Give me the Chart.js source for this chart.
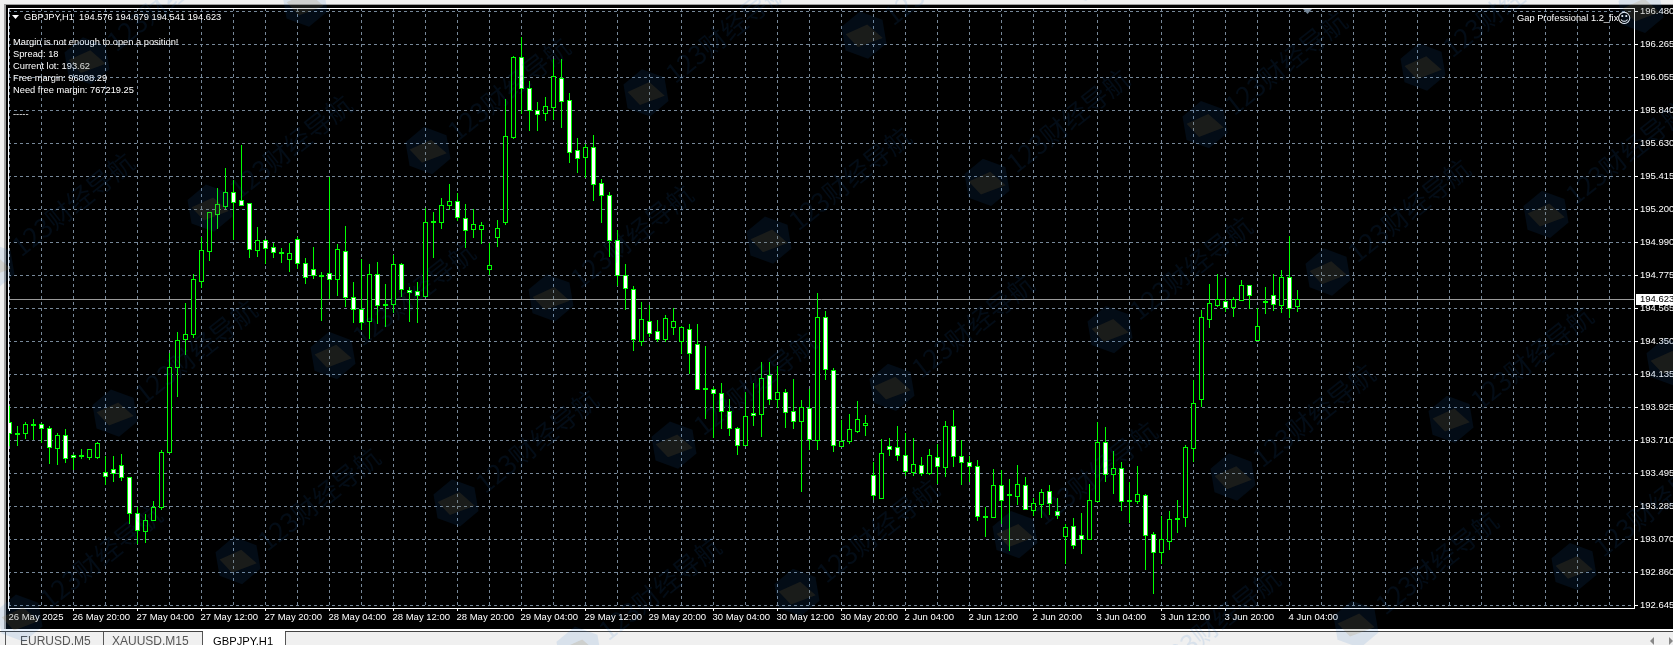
<!DOCTYPE html>
<html>
<head>
<meta charset="utf-8">
<title>GBPJPY,H1</title>
<script src="https://cdn.jsdelivr.net/npm/chart.js@4/dist/chart.umd.min.js"></script>
<style>
  html, body { margin: 0; padding: 0; background: #f0f0f0; }
  body { position: relative; width: 1673px; height: 645px; overflow: hidden; font-family: "Liberation Sans", sans-serif; }
  .edge { position: absolute; background: #a0a0a0; }
  #plotBg { position: absolute; left: 6px; top: 5px; width: 1667px; height: 624px; background: #000; }
  #chart, #wm { position: absolute; left: 0; top: 0; }
  #wm { pointer-events: none; z-index: 5; }
  .lbl { position: absolute; color: #fff; font-size: 9.3px; line-height: 12px; white-space: pre; }
  #tabLine { position: absolute; left: 0; top: 629px; width: 1673px; height: 2px; background: #fff; }
  #tabDark { position: absolute; left: 0; top: 631px; width: 1673px; height: 1px; background: #444; }
  .tab { position: absolute; top: 635px; font-size: 12px; line-height: 12px; color: #555; white-space: pre; }
  .sep { position: absolute; top: 632px; width: 1px; height: 13px; background: #555; }
  #active { position: absolute; left: 203px; top: 631px; width: 82px; height: 14px; background: #fff; }
  .arrow { position: absolute; top: 637px; width: 0; height: 0; border-top: 4px solid transparent; border-bottom: 4px solid transparent; }
</style>
</head>
<body>
<div class="edge" style="left:4px;top:4px;width:1669px;height:1px"></div>
<div class="edge" style="left:4px;top:4px;width:2px;height:627px"></div>
<div id="plotBg"></div>
<canvas id="chart" width="1673" height="630"></canvas>

<div class="lbl" style="left:24px;top:11px">GBPJPY,H1  194.576 194.679 194.541 194.623</div>
<div class="lbl" style="left:13px;top:36px">Margin is not enough to open a position!</div>
<div class="lbl" style="left:13px;top:48px">Spread: 18</div>
<div class="lbl" style="left:13px;top:60px">Current lot: 193.62</div>
<div class="lbl" style="left:13px;top:72px">Free margin: 96808.29</div>
<div class="lbl" style="left:13px;top:84px">Need free margin: 767219.25</div>
<div class="lbl" style="left:13px;top:108px">-----</div>
<div class="lbl" style="left:1517px;top:12px">Gap Professional 1.2_fix</div>
<div class="lbl" style="left:1617px;top:10px;font:14px/16px 'DejaVu Sans'">&#9786;</div>

<div id="tabLine"></div>
<div id="tabDark"></div>
<div id="active"></div>
<div class="sep" style="left:5px"></div>
<div class="sep" style="left:103px"></div>
<div class="sep" style="left:202px"></div>
<div class="sep" style="left:285px"></div>
<div class="tab" style="left:20px">EURUSD,M5</div>
<div class="tab" style="left:112px">XAUUSD,M15</div>
<div class="tab" style="left:213px;color:#000;font-size:11.2px">GBPJPY,H1</div>
<div class="arrow" style="left:1650px;border-right:4px solid #888"></div>
<div class="arrow" style="left:1669px;border-left:4px solid #888"></div>

<canvas id="wm" width="1673" height="645"></canvas>

<script>
// ── 行情資料（讀圖估值） ─────────────────────────────────────
const opens = [
  193.827,193.756,193.756,193.814,193.814,193.788,193.658,193.743,193.614,193.614,193.601,193.601,193.504,193.523,193.549,193.472,
  193.239,193.123,193.194,193.278,193.633,194.181,194.363,194.395,194.737,194.931,195.169,195.221,195.311,195.260,195.241,194.937,
  195.002,194.957,194.924,194.879,195.008,194.853,194.814,194.776,194.789,194.749,194.931,194.634,194.556,194.479,194.782,194.588,
  194.588,194.846,194.679,194.672,194.640,195.125,195.118,195.228,195.254,195.144,195.072,195.072,194.814,195.021,195.118,195.667,
  196.183,195.983,195.841,195.822,195.860,196.048,195.905,195.583,195.537,195.602,195.369,195.292,195.002,194.776,194.685,194.350,
  194.479,194.415,194.363,194.440,194.350,194.427,194.330,194.046,194.039,194.014,193.898,193.788,193.678,193.885,193.878,194.130,
  193.975,194.020,193.898,193.834,193.917,193.710,194.505,194.162,193.671,193.704,193.769,193.808,193.485,193.336,193.671,193.665,
  193.614,193.504,193.549,193.498,193.601,193.536,193.801,193.607,193.568,193.543,193.220,193.213,193.420,193.362,193.349,193.420,
  193.258,193.297,193.381,193.252,193.090,193.155,193.097,193.071,193.317,193.697,193.491,193.530,193.323,193.317,193.356,193.103,
  192.987,193.058,193.207,193.213,193.658,193.975,194.492,194.582,194.608,194.569,194.614,194.711,194.356,194.608,194.646,194.582,
  194.763,194.576
];
const highs = [
  193.930,193.801,193.827,193.846,193.821,193.801,193.756,193.782,193.620,193.652,193.652,193.697,193.607,193.607,193.620,193.472,
  193.278,193.232,193.317,193.646,194.272,194.408,194.595,194.782,195.021,195.182,195.337,195.466,195.389,195.615,195.241,195.085,
  195.008,194.983,194.950,194.983,195.021,194.885,194.957,194.795,195.408,194.976,195.092,194.730,194.879,194.846,194.859,194.717,
  194.905,194.853,194.698,194.730,195.208,195.182,195.273,195.363,195.305,195.234,195.202,195.118,194.983,195.131,195.912,196.190,
  196.312,196.029,195.892,195.925,196.170,196.170,195.951,195.660,195.621,195.680,195.395,195.311,195.066,194.846,194.705,194.601,
  194.582,194.485,194.518,194.563,194.447,194.459,194.459,194.317,194.052,194.079,193.975,193.795,194.020,194.079,194.214,194.214,
  194.188,194.039,194.104,193.969,194.039,194.660,194.544,194.175,193.840,193.878,193.963,193.872,193.568,193.717,193.723,193.801,
  193.756,193.723,193.601,193.652,193.684,193.834,193.904,193.710,193.607,193.581,193.278,193.523,193.517,193.459,193.549,193.472,
  193.336,193.394,193.420,193.336,193.168,193.207,193.239,193.426,193.827,193.795,193.640,193.568,193.439,193.543,193.362,193.116,
  193.220,193.252,193.323,193.678,194.098,194.550,194.717,194.782,194.756,194.634,194.743,194.711,194.563,194.698,194.782,194.808,
  195.027,194.679
];
const lows = [
  193.678,193.678,193.723,193.717,193.697,193.562,193.555,193.568,193.523,193.594,193.588,193.594,193.426,193.446,193.452,193.175,
  193.046,193.052,193.194,193.265,193.633,193.994,194.265,194.376,194.698,194.872,195.079,195.208,195.008,195.228,194.892,194.898,
  194.853,194.892,194.859,194.802,194.821,194.724,194.756,194.485,194.627,194.646,194.575,194.472,194.427,194.369,194.466,194.447,
  194.537,194.640,194.479,194.472,194.640,194.892,195.079,195.202,195.131,194.957,195.021,194.983,194.782,194.963,195.105,195.660,
  195.822,195.712,195.712,195.776,195.783,195.731,195.505,195.440,195.408,195.260,195.118,194.898,194.711,194.556,194.291,194.324,
  194.382,194.350,194.350,194.395,194.272,194.143,194.039,193.852,193.730,193.788,193.743,193.620,193.678,193.808,193.736,193.943,
  193.924,193.795,193.788,193.381,193.652,193.652,194.104,193.640,193.671,193.691,193.762,193.743,193.330,193.336,193.614,193.581,
  193.485,193.485,193.485,193.491,193.433,193.478,193.543,193.426,193.446,193.194,193.090,193.213,193.175,193.000,193.297,193.265,
  193.226,193.213,193.232,193.207,192.917,193.013,192.981,193.071,193.317,193.446,193.369,193.258,193.181,193.304,192.877,192.723,
  192.917,193.006,193.116,193.155,193.575,193.930,194.440,194.575,194.544,194.511,194.614,194.563,194.356,194.531,194.550,194.537,
  194.505,194.541
];
const closes = [
  193.756,193.749,193.814,193.808,193.788,193.665,193.743,193.594,193.601,193.607,193.652,193.691,193.478,193.498,193.472,193.239,
  193.129,193.194,193.278,193.633,194.181,194.356,194.395,194.749,194.937,195.182,195.234,195.311,195.247,195.228,194.943,195.002,
  194.950,194.924,194.918,194.918,194.853,194.763,194.776,194.769,194.749,194.943,194.634,194.556,194.472,194.782,194.582,194.582,
  194.846,194.685,194.666,194.646,195.118,195.118,195.228,195.254,195.150,195.066,195.105,195.098,194.840,195.079,195.673,196.183,
  195.983,195.841,195.815,195.866,196.060,195.899,195.570,195.531,195.602,195.363,195.292,195.002,194.776,194.692,194.363,194.492,
  194.402,194.363,194.498,194.479,194.440,194.272,194.039,194.039,194.014,193.898,193.788,193.678,193.866,193.872,194.111,193.975,
  194.020,193.891,193.834,193.924,193.717,194.505,194.168,193.678,193.704,193.782,193.846,193.821,193.356,193.627,193.652,193.614,
  193.511,193.555,193.498,193.614,193.543,193.801,193.607,193.568,193.543,193.220,193.213,193.420,193.323,193.356,193.426,193.265,
  193.304,193.375,193.304,193.226,193.149,193.033,193.071,193.323,193.697,193.491,193.530,193.317,193.317,193.362,193.097,192.987,
  193.071,193.200,193.200,193.665,193.950,194.505,194.595,194.621,194.569,194.621,194.711,194.646,194.447,194.601,194.588,194.763,
  194.563,194.623
];

const currentPrice = 194.623;

const xTickLabels = [
  '26 May 2025','26 May 20:00','27 May 04:00','27 May 12:00','27 May 20:00','28 May 04:00','28 May 12:00',
  '28 May 20:00','29 May 04:00','29 May 12:00','29 May 20:00','30 May 04:00','30 May 12:00','30 May 20:00',
  '2 Jun 04:00','2 Jun 12:00','2 Jun 20:00','3 Jun 04:00','3 Jun 12:00','3 Jun 20:00','4 Jun 04:00'
];
const yTickValues = [
  196.480,196.267,196.054,195.841,195.628,195.415,195.202,194.989,194.776,194.563,
  194.350,194.137,193.924,193.711,193.498,193.285,193.072,192.859,192.645
];
const yTickLabels = [
  '196.480','196.265','196.055','195.840','195.630','195.415','195.200','194.990','194.775','194.565',
  '194.350','194.135','193.925','193.710','193.495','193.285','193.070','192.860','192.645'
];

// ── 顏色 ───────────────────────────────────────────────────
const GREEN = '#00ff00';
const GRID  = '#778899';
const FONT  = { family: '"Liberation Sans", sans-serif', size: 9.5 };

// ── 外掛：K 棒對齊像素、外框、現價線 ──────────────────────────
const mt4Plugin = {
  id: 'mt4',
  beforeDatasetsDraw(chart) {
    const { ctx, chartArea: a, scales: { y } } = chart;
    // 對齊整數像素，避免 K 棒模糊
    chart.getSortedVisibleDatasetMetas().forEach(meta => {
      meta.data.forEach(el => {
        if (el._snapped) return;
        el.y = Math.round(el.y - 0.5);
        el.base = Math.round(el.base + 0.5);
        el._snapped = true;
      });
    });
    const py = Math.floor(y.getPixelForValue(currentPrice)) + 0.5;
    ctx.save();
    ctx.strokeStyle = '#9a9a9a';
    ctx.beginPath();
    ctx.moveTo(a.left, py);
    ctx.lineTo(a.right, py);
    ctx.stroke();
    ctx.restore();
  },
  afterDraw(chart) {
    const { ctx, chartArea: a, scales: { y } } = chart;
    ctx.save();
    ctx.strokeStyle = '#fff';
    ctx.strokeRect(a.left + 0.5, a.top + 0.5, a.right - a.left - 1, a.bottom - a.top);

    // 現價標籤
    const py = y.getPixelForValue(currentPrice);
    ctx.fillStyle = '#fff';
    ctx.fillRect(a.right + 1, Math.round(py) - 5, 38, 11);
    ctx.fillStyle = '#000';
    ctx.font = `${FONT.size}px ${FONT.family}`;
    ctx.textBaseline = 'middle';
    ctx.fillText(currentPrice.toFixed(3), a.right + 5, Math.round(py));

    // 左上小三角、圖表位移標記
    ctx.fillStyle = '#fff';
    ctx.beginPath();
    ctx.moveTo(12, 15); ctx.lineTo(19, 15); ctx.lineTo(15.5, 19);
    ctx.fill();
    ctx.fillStyle = GRID;
    ctx.beginPath();
    ctx.moveTo(1303, 9); ctx.lineTo(1312, 9); ctx.lineTo(1307.5, 14);
    ctx.fill();
    ctx.restore();
  },
};

const candleX = opens.map((_, i) => i);

new Chart(document.getElementById('chart'), {
  type: 'bar',
  data: {
    datasets: [
      {
        label: 'Body',
        data: candleX.map(i => ({ x: i, y: [Math.min(opens[i], closes[i]), Math.max(opens[i], closes[i])] })),
        backgroundColor: candleX.map(i => closes[i] < opens[i] ? '#ffffff' : '#000000'),
        borderColor: GREEN,
        borderWidth: 1,
        borderSkipped: false,
        barThickness: 5,
        grouped: false,
        inflateAmount: 0,
        order: 1,
      },
      {
        label: 'Wick',
        data: candleX.map(i => ({ x: i, y: [lows[i], highs[i]] })),
        backgroundColor: GREEN,
        borderWidth: 0,
        barThickness: 1,
        grouped: false,
        inflateAmount: 0,
        order: 2,
      },
    ],
  },
  options: {
    responsive: false,
    animation: false,
    layout: { padding: { left: 8, top: 8, right: 0, bottom: 0 } },
    plugins: { legend: { display: false }, tooltip: { enabled: false } },
    scales: {
      x: {
        type: 'linear',
        offset: false,
        min: -0.1875,
        max: 203.1875,
        afterFit: s => { s.height = 22; },
        afterBuildTicks: s => { s.ticks = Array.from({ length: 51 }, (_, k) => ({ value: k * 4 })); },
        border: { display: false, dash: [3, 3] },
        grid: {
          offset: false,
          color: GRID,
          tickLength: 3,
          tickColor: c => (c.tick && c.tick.value % 8 === 0 && c.tick.value <= 160) ? '#ffffff' : 'rgba(0,0,0,0)',
        },
        ticks: {
          autoSkip: false,
          maxRotation: 0,
          align: 'start',
          labelOffset: -1,
          padding: 1,
          color: '#ffffff',
          font: FONT,
          callback: v => (v % 8 === 0 && xTickLabels[v / 8]) || '',
        },
      },
      y: {
        position: 'right',
        min: 192.6289,
        max: 196.5026,
        afterFit: s => { s.width = 38; },
        afterBuildTicks: s => { s.ticks = yTickValues.map(value => ({ value })); },
        border: { display: false, dash: [3, 3] },
        grid: { color: GRID, tickLength: 3, tickColor: '#ffffff' },
        ticks: {
          autoSkip: false,
          padding: 2,
          color: '#ffffff',
          font: FONT,
          callback: (v, i) => yTickLabels[i],
        },
      },
    },
  },
  plugins: [mt4Plugin],
});

// ── 浮水印 ─────────────────────────────────────────────────
const wm = document.getElementById('wm').getContext('2d');
const WM_TINT = 'rgba(30,110,200,0.11)';

function drawMark(cx, cy) {
  wm.save();
  wm.translate(cx, cy);
  wm.rotate(-0.17);
  wm.fillStyle = WM_TINT;
  wm.beginPath();
  for (let k = 0; k < 6; k++) {
    const t = Math.PI / 6 + k * Math.PI / 3;
    wm.lineTo(24 * Math.cos(t), 24 * Math.sin(t));
  }
  wm.closePath();
  wm.fill();
  wm.fillStyle = 'rgba(150,110,50,0.16)';
  wm.beginPath();
  wm.moveTo(-18, -4); wm.lineTo(5, -10); wm.lineTo(18, 6); wm.lineTo(-8, 11);
  wm.closePath();
  wm.fill();
  wm.restore();

  wm.save();
  wm.translate(cx + 23, cy - 16);
  wm.rotate(-0.67);
  wm.fillStyle = WM_TINT;
  wm.font = '26px "Noto Sans CJK SC"';
  wm.textBaseline = 'middle';
  wm.fillText('123财经导航', 0, 0);
  wm.restore();
}

for (let m = -8; m <= 8; m++) {
  for (let n = -6; n <= 8; n++) {
    const cx = 1423 + m * 123 - n * 95;
    const cy = 67 + m * 147.3 + n * 205;
    if (cx > -60 && cx < 1730 && cy > -60 && cy < 700) drawMark(cx, cy);
  }
}
</script>
</body>
</html>
